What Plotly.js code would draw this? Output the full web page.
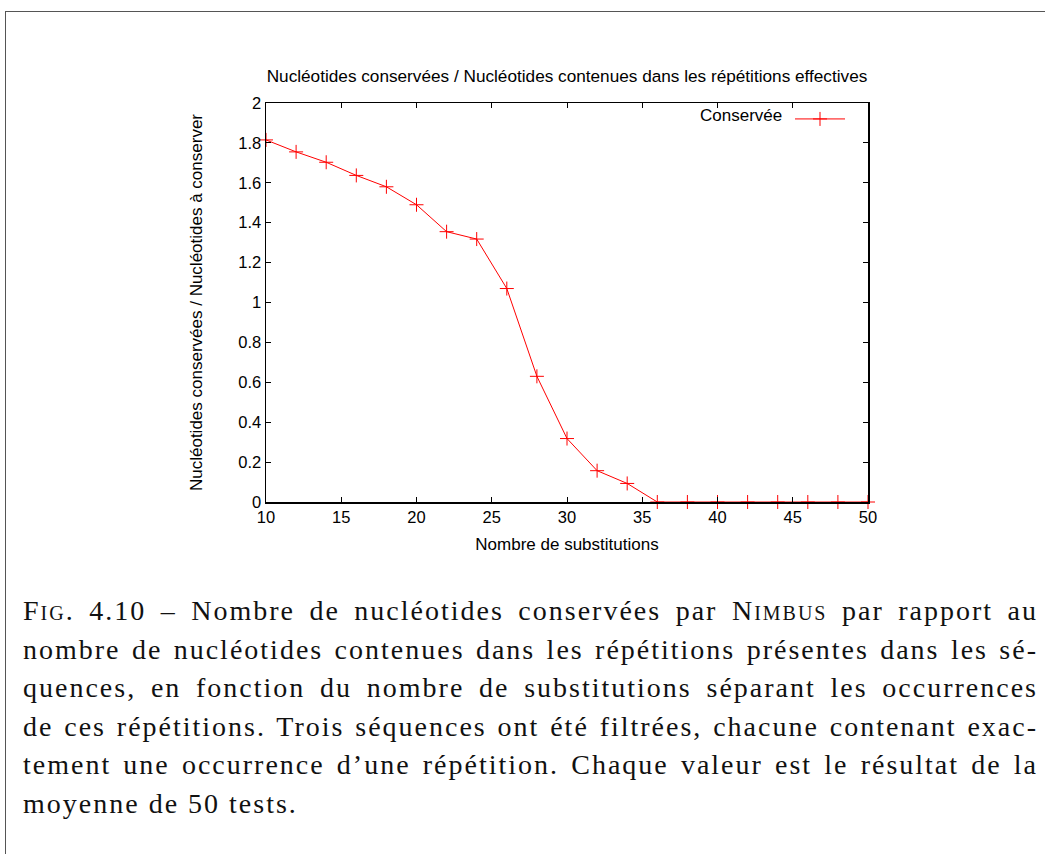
<!DOCTYPE html>
<html>
<head>
<meta charset="utf-8">
<script src="https://cdn.plot.ly/plotly-3.0.1.min.js"></script>
<style>
  html, body { margin: 0; padding: 0; background: #fff; }
  #wrap { position: relative; width: 1045px; height: 854px; overflow: hidden; }
  #chart { position: absolute; left: 0; top: 0; width: 1045px; height: 854px; }
  #frame { position: absolute; left: 5px; top: 11px; width: 1100px; height: 900px;
           border-left: 1.5px solid #555; border-top: 1.5px solid #555; pointer-events: none; }
  #caption { position: absolute; left: 23px; top: 592px; width: 1015px;
             font-family: "Liberation Serif", "DejaVu Serif", serif; font-size: 28px;
             line-height: 38.5px; color: #111; letter-spacing: 2px; }
  #caption .ln { text-align: justify; text-align-last: justify; white-space: nowrap; }
  #caption .ln.last { text-align-last: left; }
  .sc { font-variant: small-caps; }
</style>
</head>
<body>
<div id="wrap">
  <div id="chart"></div>
  <div id="frame"></div>
  <div id="caption">
    <div class="ln"><span class="sc">Fig</span>. 4.10 – Nombre de nucléotides conservées par <span class="sc">Nimbus</span> par rapport au</div>
    <div class="ln">nombre de nucléotides contenues dans les répétitions présentes dans les sé-</div>
    <div class="ln">quences, en fonction du nombre de substitutions séparant les occurrences</div>
    <div class="ln">de ces répétitions. Trois séquences ont été filtrées, chacune contenant exac-</div>
    <div class="ln">tement une occurrence d’une répétition. Chaque valeur est le résultat de la</div>
    <div class="ln last">moyenne de 50 tests.</div>
  </div>
</div>
<script>
// Data
const substitutions = [10, 12, 14, 16, 18, 20, 22, 24, 26, 28, 30, 32, 34, 36, 38, 40, 42, 44, 46, 48, 50];
const conservee = [1.815, 1.755, 1.703, 1.637, 1.58, 1.49, 1.355, 1.318, 1.07, 0.63, 0.318, 0.157, 0.093, 0, 0, 0, 0, 0, 0, 0, 0];
const seriesName = "Conservée";
const chartTitle = "Nucléotides conservées / Nucléotides contenues dans les répétitions effectives";
const xTitle = "Nombre de substitutions";
const yTitle = "Nucléotides conservées / Nucléotides à conserver";

const W = 1045, H = 854;
const plotL = 266, plotR = 868, plotT = 103, plotB = 502;

const trace = {
  x: substitutions,
  y: conservee,
  type: 'scatter',
  mode: 'lines+markers',
  name: ' ',
  line: { color: '#ff0000', width: 1 },
  marker: { symbol: 'cross-thin', size: 10, color: '#ff0000', line: { color: '#ff0000', width: 1 } },
  cliponaxis: false,
  showlegend: true
};

const FAM = 'Liberation Sans, Arial, sans-serif';
function f(size) { return { family: FAM, size: size, color: '#000' }; }

const layout = {
  width: W, height: H,
  paper_bgcolor: 'rgba(0,0,0,0)', plot_bgcolor: 'rgba(0,0,0,0)',
  margin: { l: plotL, r: W - plotR, t: plotT, b: H - plotB, pad: 0 },
  font: f(17),
  title: {
    text: chartTitle,
    font: f(17.2),
    xref: 'paper', x: 0.5, xanchor: 'center',
    yref: 'container', y: 1 - 76 / H, yanchor: 'middle'
  },
  xaxis: {
    range: [10, 50], dtick: 5, tick0: 10,
    showline: true, linecolor: '#000', linewidth: 1.5, mirror: 'ticks',
    ticks: 'inside', ticklen: 5, tickwidth: 1, tickcolor: '#000',
    showgrid: false, zeroline: false,
    tickfont: f(16.5),
    title: { text: xTitle, font: f(17), standoff: 13 }
  },
  yaxis: {
    range: [0, 2], dtick: 0.2, tick0: 0,
    showline: true, linecolor: '#000', linewidth: 1.5, mirror: 'ticks',
    ticks: 'inside', ticklen: 5, tickwidth: 1, tickcolor: '#000',
    showgrid: false, zeroline: false,
    tickfont: f(16.5),
    title: { text: yTitle, font: f(17), standoff: 31 }
  },
  showlegend: true,
  legend: {
    x: (790 - plotL) / (plotR - plotL), xanchor: 'left',
    y: 1, yanchor: 'top',
    bgcolor: 'rgba(0,0,0,0)', borderwidth: 0,
    font: f(14.5),
    itemwidth: 50
  },
  annotations: [{
    text: seriesName,
    xref: 'paper', yref: 'paper',
    x: (784 - plotL) / (plotR - plotL), xanchor: 'right',
    y: 1 - (116 - plotT) / (plotB - plotT), yanchor: 'middle',
    showarrow: false,
    font: f(17)
  }]
};

Plotly.newPlot('chart', [trace], layout, { displayModeBar: false, staticPlot: true });
</script>
</body>
</html>
